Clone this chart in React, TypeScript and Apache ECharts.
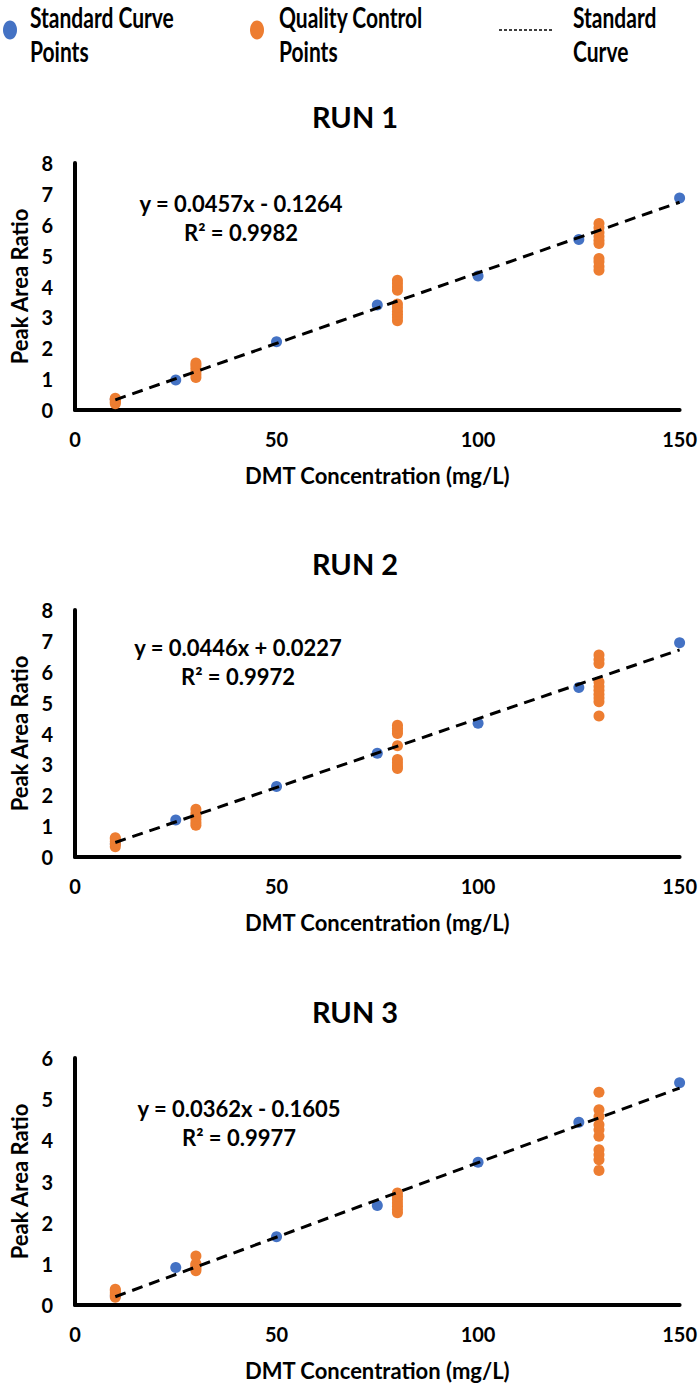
import * as echarts from 'echarts';
import { useEffect, useRef } from 'react';

// concentrations (mg/L) of the calibration standards
const standardX = [10, 25, 50, 75, 100, 125, 150];
const run1Standard = [0.35, 0.97, 2.21, 3.4, 4.34, 5.52, 6.87];
const run2Standard = [0.42, 1.2, 2.28, 3.36, 4.33, 5.49, 6.94];
const run3Standard = [0.22, 0.91, 1.66, 2.42, 3.47, 4.44, 5.4];

// quality control levels and their replicate peak area ratios
const qcLevels = [10, 30, 80, 130];
const run1Qc = [
  [0.2, 0.25, 0.3, 0.35, 0.38],
  [1.05, 1.15, 1.25, 1.35, 1.45, 1.52],
  [2.89, 3.0, 3.1, 3.2, 3.32, 3.43, 3.88, 3.98, 4.1, 4.2],
  [4.53, 4.65, 4.8, 4.91, 5.39, 5.5, 5.62, 5.75, 5.9, 6.04],
];
const run2Qc = [
  [0.33, 0.42, 0.5, 0.58, 0.62],
  [1.03, 1.12, 1.22, 1.32, 1.42, 1.55],
  [2.87, 2.95, 3.05, 3.16, 3.6, 4.0, 4.08, 4.17, 4.27],
  [4.57, 5.03, 5.15, 5.27, 5.4, 5.52, 5.67, 6.27, 6.4, 6.54],
];
const run3Qc = [
  [0.19, 0.25, 0.3, 0.35, 0.38],
  [0.83, 0.88, 0.93, 0.98, 1.0, 1.19],
  [2.24, 2.32, 2.4, 2.48, 2.56, 2.64, 2.72],
  [3.27, 3.53, 3.65, 3.77, 4.1, 4.26, 4.38, 4.58, 4.74, 5.17],
];

// trendline end points
const curveX = [10, 150];
const run1Curve = [0.33, 6.73];
const run2Curve = [0.47, 6.71];
const run3Curve = [0.2, 5.27];

const runTitles = ['RUN 1', 'RUN 2', 'RUN 3'];
const equations = ['y = 0.0457x - 0.1264', 'y = 0.0446x + 0.0227', 'y = 0.0362x - 0.1605'];
const rSquared = ['R² = 0.9982', 'R² = 0.9972', 'R² = 0.9977'];
const yMax = [8, 8, 6];
const xTicks = { min: 0, max: 150, interval: 50 };

const FONT = 'Lato, "Open Sans", sans-serif';
const BLUE = '#4472C4';
const ORANGE = '#ED7D31';

const gridTops = [163, 610, 1058];
const gridHeight = 247;
const eqY = [203, 647, 1108];
const eqX = [241, 238, 239];

const App: React.FC = () => {
  const chartRef = useRef<HTMLDivElement>(null);

  useEffect(() => {
    document.body.style.margin = '0';
    if (!chartRef.current) return;
    const chart = echarts.init(chartRef.current, null, { renderer: 'svg' });

    const standards = [run1Standard, run2Standard, run3Standard];
    const qcs = [run1Qc, run2Qc, run3Qc];
    const curves = [run1Curve, run2Curve, run3Curve];

    const series: any[] = [];
    [0, 1, 2].forEach((i) => {
      series.push({
        name: 'Standard Curve Points',
        type: 'scatter',
        xAxisIndex: i,
        yAxisIndex: i,
        symbolSize: 11,
        itemStyle: { color: BLUE, opacity: 1 },
        data: standardX.map((x, k) => [x, standards[i][k]]),
        z: 2,
      });
      series.push({
        name: 'Quality Control Points',
        type: 'scatter',
        xAxisIndex: i,
        yAxisIndex: i,
        symbolSize: 11,
        itemStyle: { color: ORANGE, opacity: 1 },
        data: qcLevels.flatMap((x, k) => qcs[i][k].map((y) => [x, y])),
        z: 3,
      });
      series.push({
        name: 'Standard Curve',
        type: 'line',
        xAxisIndex: i,
        yAxisIndex: i,
        symbol: 'none',
        lineStyle: { color: '#000', width: 3, type: [11, 7] },
        data: curveX.map((x, k) => [x, curves[i][k]]),
        z: 4,
      });
    });

    const legendText = (text: string, x: number, y: number) => ({
      type: 'text',
      x,
      y,
      scaleY: 1.4,
      style: {
        text,
        fontFamily: FONT,
        fontWeight: 'bold',
        fontSize: 21,
        fill: '#000',
        align: 'left',
        verticalAlign: 'middle',
      },
    });

    const eqText = (text: string, x: number, y: number) => ({
      type: 'text',
      x,
      y,
      style: {
        text,
        fontFamily: FONT,
        fontWeight: 'bold',
        fontSize: 22,
        fill: '#000',
        align: 'center',
        verticalAlign: 'middle',
      },
    });

    const option: any = {
      animation: false,
      title: runTitles.map((t, i) => ({
        text: t,
        left: 350,
        top: gridTops[i] - 66,
        textAlign: 'center',
        textStyle: { fontFamily: FONT, fontWeight: 'bold', fontSize: 29, color: '#000' },
      })),
      grid: gridTops.map((top) => ({ left: 75, top, width: 607, height: gridHeight })),
      xAxis: [0, 1, 2].map((i) => ({
        gridIndex: i,
        type: 'value',
        ...xTicks,
        name: 'DMT Concentration (mg/L)',
        nameLocation: 'middle',
        nameGap: 54,
        nameTextStyle: { fontFamily: FONT, fontWeight: 'bold', fontSize: 22, color: '#000' },
        axisLine: { show: true, lineStyle: { color: '#000', width: 4 } },
        axisTick: { show: false },
        splitLine: { show: false },
        axisLabel: { fontFamily: FONT, fontWeight: 'bold', fontSize: 20, color: '#000', margin: 19 },
      })),
      yAxis: [0, 1, 2].map((i) => ({
        gridIndex: i,
        type: 'value',
        min: 0,
        max: yMax[i],
        interval: 1,
        name: 'Peak Area Ratio',
        nameLocation: 'middle',
        nameGap: 44,
        nameTextStyle: { fontFamily: FONT, fontWeight: 'bold', fontSize: 22, color: '#000' },
        axisLine: { show: true, lineStyle: { color: '#000', width: 4 } },
        axisTick: { show: false },
        splitLine: { show: false },
        axisLabel: { fontFamily: FONT, fontWeight: 'bold', fontSize: 20, color: '#000', margin: 22 },
      })),
      series,
      graphic: [
        { type: 'ellipse', shape: { cx: 10, cy: 30, rx: 7, ry: 9.5 }, style: { fill: BLUE } },
        legendText('Standard Curve', 30, 16),
        legendText('Points', 30, 50),
        { type: 'ellipse', shape: { cx: 257, cy: 30, rx: 7, ry: 9.5 }, style: { fill: ORANGE } },
        legendText('Quality Control', 279, 16),
        legendText('Points', 279, 50),
        {
          type: 'line',
          shape: { x1: 499, y1: 30, x2: 554, y2: 30 },
          style: { stroke: '#000', lineWidth: 1.5, lineDash: [3, 2] },
        },
        legendText('Standard', 573, 16),
        legendText('Curve', 573, 50),
        ...[0, 1, 2].flatMap((i) => [
          eqText(equations[i], eqX[i], eqY[i]),
          eqText(rSquared[i], eqX[i], eqY[i] + 29),
        ]),
      ],
    };

    chart.setOption(option);

    return () => {
      if (!chart.isDisposed()) chart.dispose();
    };
  }, []);

  return <div ref={chartRef} style={{ width: '700px', height: '1383px' }} />;
};

export default App;
